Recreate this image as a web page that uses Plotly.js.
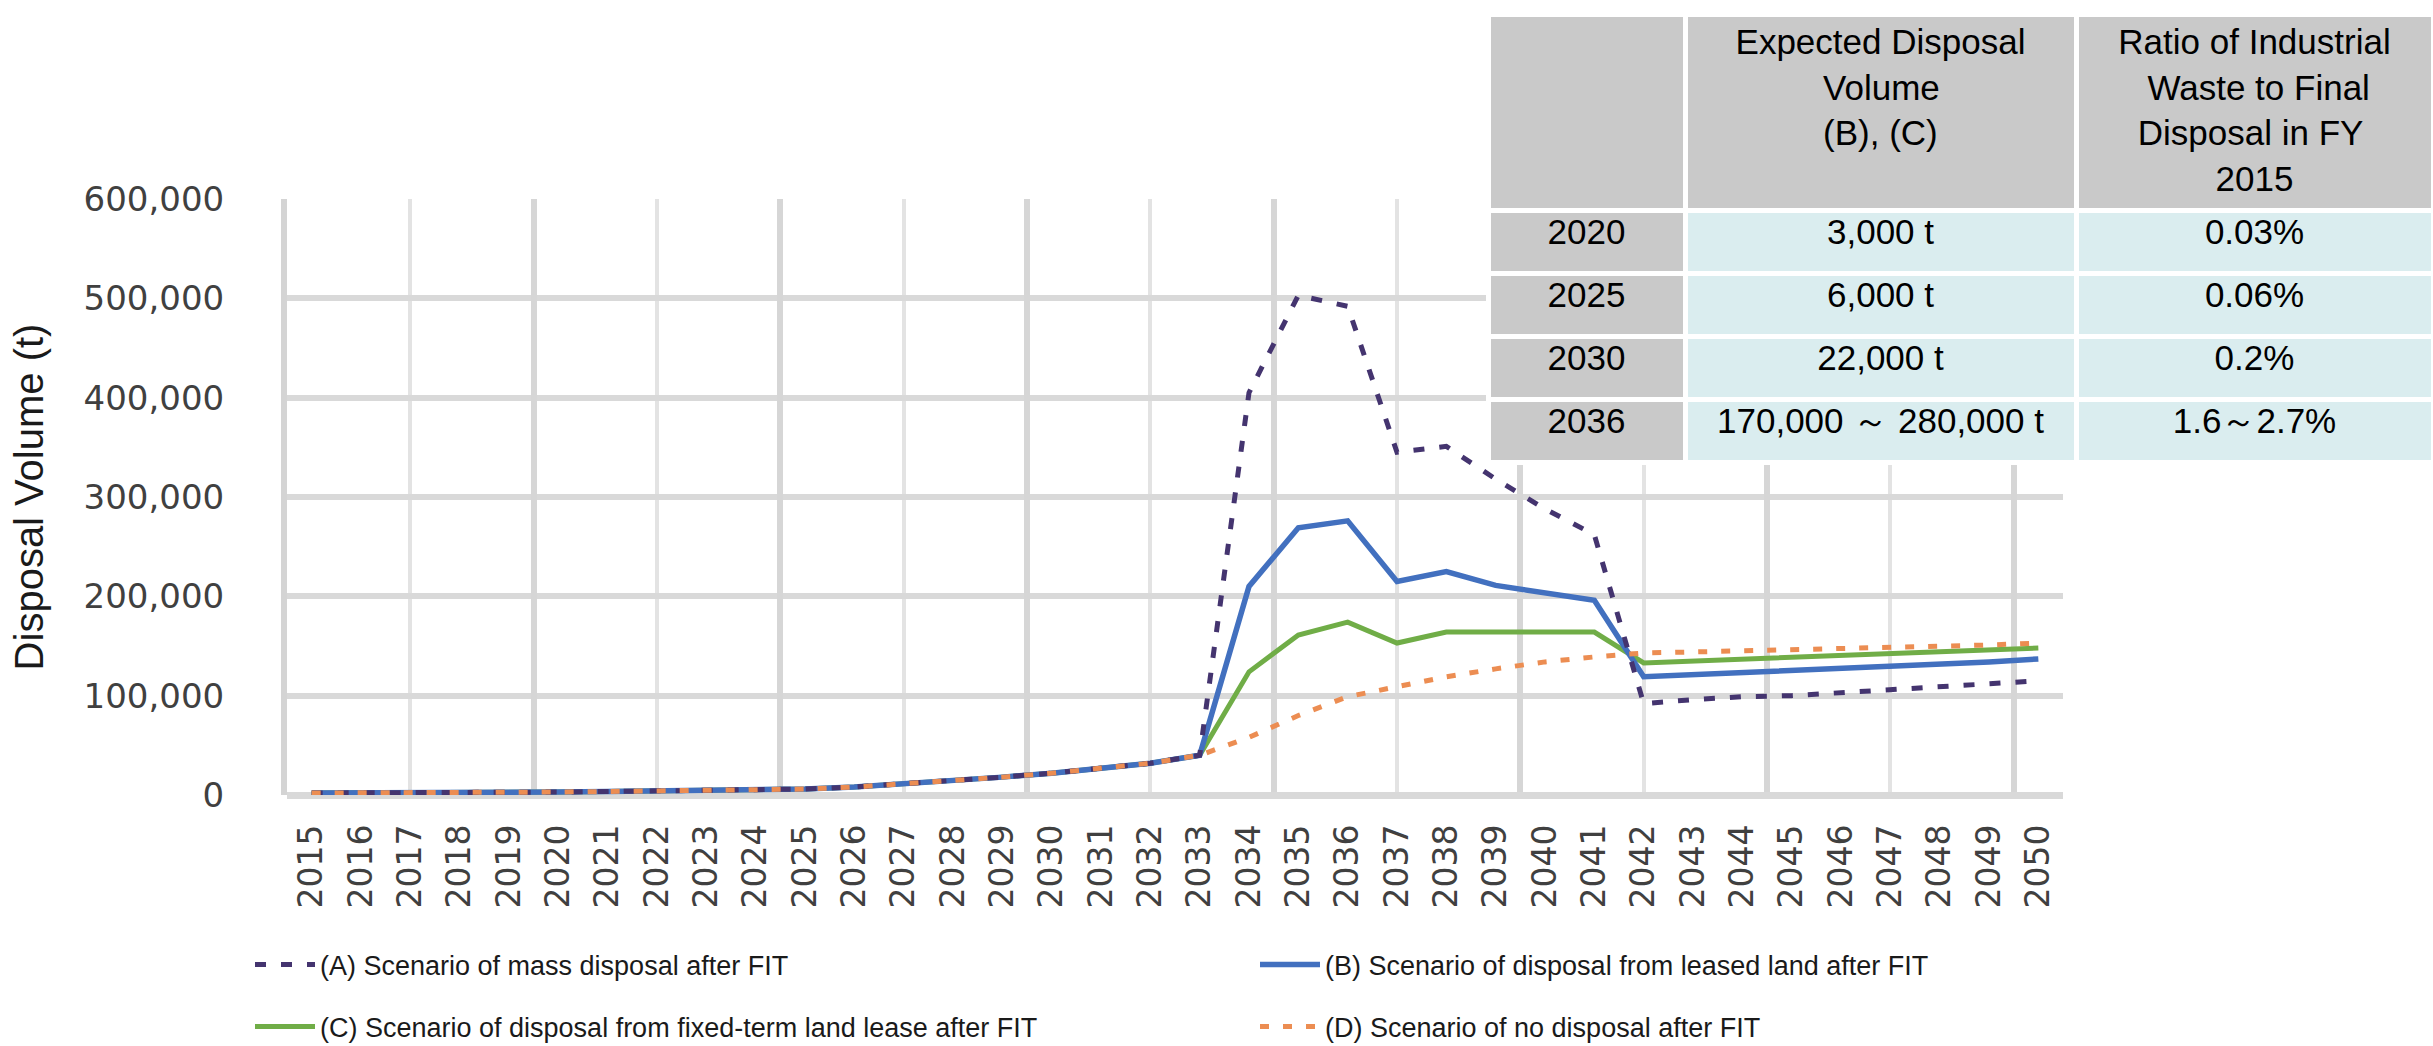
<!DOCTYPE html>
<html>
<head>
<meta charset="utf-8">
<script src="https://cdn.plot.ly/plotly-3.0.1.min.js"></script>
<style>
  html, body { margin: 0; padding: 0; background: #ffffff; }
  #chart { width: 2433px; height: 1046px; }
</style>
</head>
<body>
<div id="chart"></div>
<script>
// ---- Data ----
const years = [2015, 2016, 2017, 2018, 2019, 2020, 2021, 2022, 2023, 2024,
               2025, 2026, 2027, 2028, 2029, 2030, 2031, 2032, 2033, 2034,
               2035, 2036, 2037, 2038, 2039, 2040, 2041, 2042, 2043, 2044,
               2045, 2046, 2047, 2048, 2049, 2050];

// (A) Scenario of mass disposal after FIT
const massDisposal = [2000, 2000, 2500, 2500, 3000, 3000, 3500, 4000, 4500, 5000,
                      6000, 8000, 11000, 14000, 18000, 22000, 27000, 32000, 40000, 405000,
                      503000, 492000, 345000, 351000, 318000, 288000, 262000, 92000, 96000, 99000,
                      100000, 103000, 106000, 109000, 112000, 115000];

// (B) Scenario of disposal from leased land after FIT
const leasedLand = [2000, 2000, 2500, 2500, 3000, 3000, 3500, 4000, 4500, 5000,
                    6000, 8000, 11000, 14000, 18000, 22000, 27000, 32000, 40000, 210000,
                    269000, 276000, 215000, 225000, 211000, 203000, 196000, 119000, 121000, 123000,
                    125000, 127000, 130000, 132000, 134000, 137000];

// (C) Scenario of disposal from fixed-term land lease after FIT
const fixedTermLease = [2000, 2000, 2500, 2500, 3000, 3000, 3500, 4000, 4500, 5000,
                        6000, 8000, 11000, 14000, 18000, 22000, 27000, 32000, 40000, 124000,
                        161000, 174000, 153000, 164000, 164000, 164000, 164000, 133000, 135000, 137000,
                        139000, 141000, 142000, 144000, 146000, 148000];

// (D) Scenario of no disposal after FIT
const noDisposal = [2000, 2000, 2500, 2500, 3000, 3000, 3500, 4000, 4500, 5000,
                    6000, 8000, 11000, 14000, 18000, 22000, 27000, 32000, 40000, 58000,
                    80000, 99000, 109000, 119000, 127000, 134000, 139000, 143000, 144000, 145000,
                    146000, 148000, 149000, 150000, 151000, 153000];

const seriesNames = [
  '(A) Scenario of mass disposal after FIT',
  '(B) Scenario of disposal from leased land after FIT',
  '(C) Scenario of disposal from fixed-term land lease after FIT',
  '(D) Scenario of no disposal after FIT'
];

const yTickValues = [0, 100000, 200000, 300000, 400000, 500000, 600000];
const xTickLabels = years.map(String);

// Inset table
const headerVolumeLines = ['Expected Disposal', 'Volume', '(B), (C)'];
const headerRatioLines = ['Ratio of Industrial', 'Waste to Final', 'Disposal in FY', '2015'];
const tableYears = ['2020', '2025', '2030', '2036'];
const tableVolumes = ['3,000 t', '6,000 t', '22,000 t', '170,000 \uFF5E 280,000 t'];
const tableRatios = ['0.03%', '0.06%', '0.2%', '1.6\uFF5E2.7%'];

// ---- Styling ----
const W = 2433, H = 1046;
const plotL = 287, plotR = 2063, plotT = 199, plotB = 795;
const gridCol = '#d9d9d9';
const sansFont = 'Liberation Sans, Arial, sans-serif';
const tickFont = 'DejaVu Sans, Verdana, sans-serif';
const tableFontSize = 35;

// Plotly tables left-align the lines of a multi-line cell; pad each line so it is centred.
function centredLines(lines) {
  const ctx = document.createElement('canvas').getContext('2d');
  ctx.font = tableFontSize + 'px "Liberation Sans"';
  const sp = ctx.measureText('\u00A0').width || tableFontSize * 0.278;
  const widths = lines.map(l => ctx.measureText(l).width);
  const maxW = Math.max.apply(null, widths);
  return lines.map((l, i) => '\u00A0'.repeat(Math.max(0, Math.round((maxW - widths[i]) / 2 / sp))) + l).join('<br>');
}
const tableHeaders = ['', centredLines(headerVolumeLines), centredLines(headerRatioLines)];

const traces = [
  {
    type: 'scatter', mode: 'lines', x: years, y: fixedTermLease, name: seriesNames[2],
    line: { color: '#70ad47', width: 5 }, legend: 'legend2', legendrank: 1
  },
  {
    type: 'scatter', mode: 'lines', x: years, y: leasedLand, name: seriesNames[1],
    line: { color: '#4270bf', width: 5.5 }, legend: 'legend', legendrank: 2
  },
  {
    type: 'scatter', mode: 'lines', x: years, y: massDisposal, name: seriesNames[0],
    line: { color: '#44346f', width: 5, dash: '11px,15px' }, legend: 'legend', legendrank: 1
  },
  {
    type: 'scatter', mode: 'lines', x: years, y: noDisposal, name: seriesNames[3],
    xaxis: 'x2', yaxis: 'y',
    line: { color: '#ec8d52', width: 5, dash: '9px,14px' }, legend: 'legend2', legendrank: 2
  },
  {
    type: 'table',
    domain: { x: [1488 / W, 1], y: [1 - 600 / H, 1 - 14 / H] },
    columnwidth: [197, 391, 357],
    header: {
      values: tableHeaders,
      fill: { color: '#c9c9c9' },
      line: { color: '#ffffff', width: 5 },
      align: 'center',
      height: 196,
      font: { family: sansFont, size: tableFontSize, color: '#000000' }
    },
    cells: {
      values: [tableYears, tableVolumes, tableRatios],
      fill: { color: ['#c9c9c9', '#daedef', '#daedef'] },
      line: { color: '#ffffff', width: 5 },
      align: 'center',
      height: 63,
      font: { family: sansFont, size: tableFontSize, color: '#000000' }
    }
  }
];

const legendCommon = {
  orientation: 'h',
  xref: 'paper', yref: 'paper',
  x: 250 / W,
  xanchor: 'left', yanchor: 'middle',
  entrywidth: 930, entrywidthmode: 'pixels',
  itemwidth: 60,
  traceorder: 'normal',
  bgcolor: 'rgba(0,0,0,0)',
  font: { family: sansFont, size: 27, color: '#1a1a1a' }
};

const layout = {
  width: W, height: H,
  margin: { l: 0, r: 0, t: 0, b: 0, pad: 0, autoexpand: false },
  paper_bgcolor: '#ffffff',
  plot_bgcolor: '#ffffff',
  showlegend: true,
  xaxis: {
    domain: [plotL / W, plotR / W],
    range: [2014.5, 2050.5],
    autorange: false,
    tickmode: 'array',
    tickvals: years,
    ticktext: xTickLabels,
    tickangle: -90,
    ticks: '',
    ticklabelstandoff: 22,
    showgrid: false,
    zeroline: false,
    showline: false,
    automargin: false,
    tickfont: { family: tickFont, size: 33, color: '#404040' }
  },
  xaxis2: {
    overlaying: 'x',
    matches: 'x',
    anchor: 'y',
    side: 'bottom',
    range: [2014.5, 2050.5],
    autorange: false,
    tickmode: 'linear',
    tick0: 2014.5,
    dtick: 5,
    ticks: '',
    showticklabels: false,
    showgrid: true,
    gridcolor: '#d6d6d6',
    gridwidth: 6,
    minor: { tickmode: 'linear', tick0: 2017, dtick: 5, showgrid: true, gridcolor: '#e3e3e3', gridwidth: 4, ticks: '' },
    zeroline: false,
    showline: false,
    automargin: false
  },
  yaxis: {
    domain: [1 - plotB / H, 1 - plotT / H],
    range: [0, 600000],
    autorange: false,
    tickmode: 'array',
    tickvals: yTickValues,
    tickformat: ',d',
    ticks: '',
    ticklabelstandoff: 50,
    showgrid: true,
    gridcolor: gridCol,
    gridwidth: 6,
    zeroline: true,
    zerolinecolor: gridCol,
    zerolinewidth: 7,
    showline: true,
    linecolor: '#d4d4d4',
    linewidth: 6,
    automargin: false,
    tickfont: { family: tickFont, size: 34, color: '#404040' },
    title: {
      text: 'Disposal Volume (t)',
      standoff: 30,
      font: { family: sansFont, size: 40, color: '#1a1a1a' }
    }
  },
  legend: Object.assign({}, legendCommon, { y: 1 - 965 / H }),
  legend2: Object.assign({}, legendCommon, { y: 1 - 1027 / H })
};

Plotly.newPlot('chart', traces, layout, { staticPlot: true, displayModeBar: false });
</script>
</body>
</html>
